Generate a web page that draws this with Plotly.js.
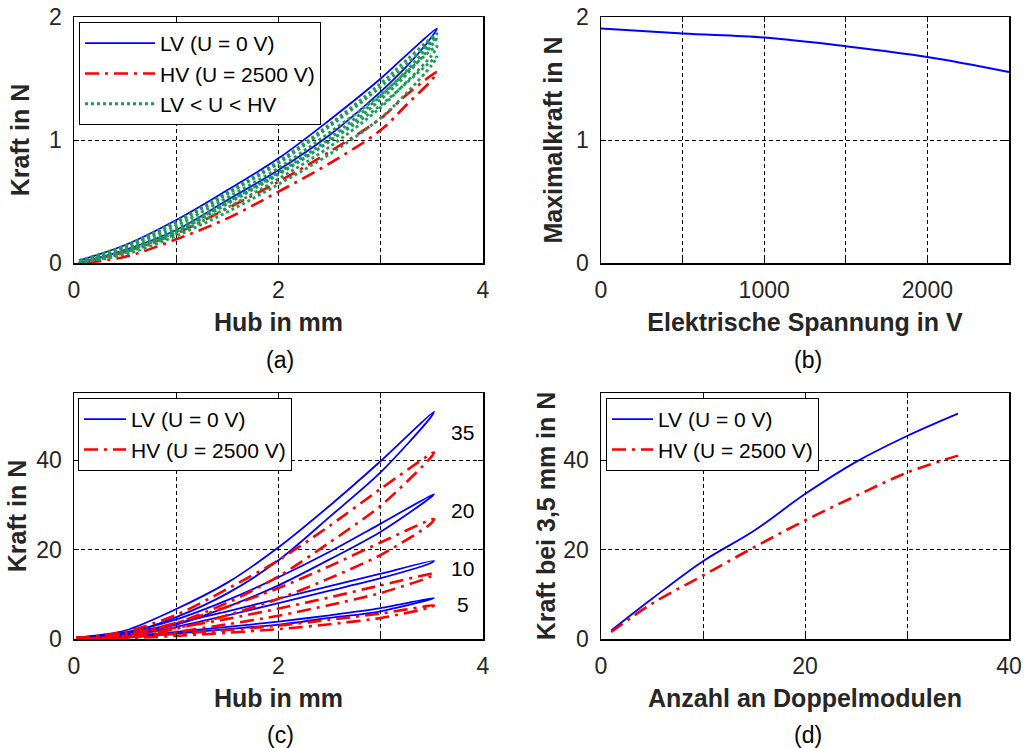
<!DOCTYPE html>
<html>
<head>
<meta charset="utf-8">
<script src="https://cdn.plot.ly/plotly-3.0.1.min.js"></script>
<style>html,body{margin:0;padding:0;background:#fff;}#chart{width:1025px;height:748px;}</style>
</head>
<body>
<div id="chart"></div>
<script>
// ---------- (a) Kraft-Hub loops, single double module ----------
const hubUpA   = [0.05, 0.5, 1, 1.5, 2, 2.5, 3, 3.25, 3.55];
const hubDownA = [3.5, 3.25, 3, 2.5, 2, 1.5, 1, 0.5, 0.05];
const lvUpA    = [0.02, 0.146, 0.35, 0.593, 0.851, 1.163, 1.50, 1.69, 1.906];
const lvDownA  = [1.84, 1.596, 1.393, 1.04, 0.756, 0.512, 0.268, 0.106, 0.0];
const hvUpA    = [0.0, 0.092, 0.241, 0.444, 0.661, 0.905, 1.176, 1.366, 1.553];
const hvDownA  = [1.49, 1.285, 1.081, 0.81, 0.58, 0.363, 0.193, 0.051, 0.0];
const midUpA = [
  [0.02, 0.14, 0.338, 0.574, 0.826, 1.127, 1.461, 1.649, 1.865],
  [0.02, 0.137, 0.328, 0.56, 0.81, 1.11, 1.432, 1.617, 1.833],
  [0.01, 0.127, 0.305, 0.532, 0.773, 1.061, 1.367, 1.552, 1.762],
  [0.01, 0.11, 0.28, 0.497, 0.727, 0.99, 1.283, 1.463, 1.675]
];
const midDownA = [
  [1.80, 1.56, 1.358, 1.012, 0.735, 0.494, 0.258, 0.1, 0.0],
  [1.77, 1.53, 1.33, 0.99, 0.72, 0.481, 0.253, 0.095, 0.0],
  [1.69, 1.47, 1.265, 0.945, 0.684, 0.45, 0.237, 0.084, 0.0],
  [1.61, 1.38, 1.18, 0.885, 0.64, 0.415, 0.22, 0.07, 0.0]
];

// ---------- (b) Maximalkraft vs voltage ----------
const voltage  = [0, 500, 1000, 1500, 2000, 2500];
const maxForce = [1.906, 1.865, 1.833, 1.762, 1.675, 1.553];

// ---------- (c) loops for 35, 20, 10, 5 double modules ----------
const moduleLabels = ['35', '20', '10', '5'];
const hubUpC   = [0.02, 0.5, 1, 1.5, 2, 2.5, 3, 3.52];
const hubDownC = [3.49, 3, 2.5, 2, 1.5, 1, 0.5, 0.02];
const lvUpC = [
  [0.3, 1.9, 6.7, 12.6, 20.5, 29.8, 39.8, 50.8],
  [0.3, 1.5, 4.4, 8.7, 13.8, 19.5, 25.8, 32.4],
  [0.3, 1.2, 3.5, 6.2, 9.0, 11.8, 14.6, 17.5],
  [0.3, 0.6, 1.6, 2.7, 3.9, 5.3, 6.9, 9.2]
];
const lvDownC = [
  [49.6, 37.3, 27.3, 17.6, 10.2, 4.9, 1.2, 0.0],
  [31.7, 24.0, 17.8, 12.0, 7.2, 3.2, 0.8, 0.0],
  [17.0, 13.6, 10.8, 8.0, 5.3, 2.7, 0.6, 0.0],
  [8.9, 6.2, 4.7, 3.2, 2.2, 1.2, 0.3, 0.0]
];
const hvUpC = [
  [0.2, 1.6, 5.4, 11.2, 17.6, 25.3, 33.6, 41.7],
  [0.2, 1.1, 3.6, 7.2, 11.4, 16.3, 21.6, 26.8],
  [0.2, 0.8, 2.5, 4.5, 6.8, 9.3, 12.0, 14.6],
  [0.2, 0.4, 1.15, 2.0, 3.0, 4.3, 5.7, 7.5]
];
const hvDownC = [
  [40.6, 29.8, 21.6, 14.0, 8.1, 3.6, 0.8, 0.0],
  [25.8, 18.8, 13.6, 9.0, 5.3, 2.3, 0.5, 0.0],
  [14.0, 10.3, 7.6, 5.2, 3.3, 1.6, 0.4, 0.0],
  [7.1, 4.7, 3.3, 2.2, 1.4, 0.7, 0.15, 0.0]
];
const labelForceC = [46.1, 28.7, 15.8, 7.7];

// ---------- (d) force at 3.5 mm vs number of double modules ----------
const modules = [1, 5, 10, 15, 20, 25, 30, 35];
const lvForceD = [1.9, 9.0, 17.4, 24.2, 32.4, 39.6, 45.4, 50.4];
const hvForceD = [1.55, 7.9, 14.2, 20.5, 26.5, 32.0, 37.2, 41.0];

// ---------- tick labels ----------
const hubTicks = [0, 1, 2, 3, 4];
const hubTickText = ['0', '', '2', '', '4'];
const forceTicksA = [0, 1, 2];
const forceTickTextA = ['0', '1', '2'];
const voltTicks = [0, 500, 1000, 1500, 2000, 2500];
const voltTickText = ['0', '', '1000', '', '2000', ''];
const forceTicksC = [0, 20, 40];
const forceTickTextC = ['0', '20', '40'];
const modTicks = [0, 10, 20, 30, 40];
const modTickText = ['0', '', '20', '', '40'];

// ---------- styles ----------
const FONT = 'Liberation Sans, Arial, sans-serif';
const TXT = '#262626';
const BLUE = '#0000ff', RED = '#ff0000', GREEN = '#1e9a5a';
const RED_DASH = '14px,6px,3px,6px';

function loop(xu, yu, xd, yd) {
  return { x: xu.concat(xd), y: yu.concat(yd) };
}

const traces = [];
// (a)
const lvA = loop(hubUpA, lvUpA, hubDownA, lvDownA);
traces.push({x: lvA.x, y: lvA.y, xaxis: 'x', yaxis: 'y', mode: 'lines', name: 'LV (U = 0 V)',
  line: {color: BLUE, width: 1.8, shape: 'spline'}, legend: 'legend'});
const hvA = loop(hubUpA, hvUpA, hubDownA, hvDownA);
traces.push({x: hvA.x, y: hvA.y, xaxis: 'x', yaxis: 'y', mode: 'lines', name: 'HV (U = 2500 V)',
  line: {color: RED, width: 2.6, dash: RED_DASH, shape: 'spline'}, legend: 'legend'});
for (let i = 0; i < midUpA.length; i++) {
  const m = loop(hubUpA, midUpA[i], hubDownA, midDownA[i]);
  traces.push({x: m.x, y: m.y, xaxis: 'x', yaxis: 'y', mode: 'lines', name: 'LV < U < HV',
    showlegend: i === 0, legendgroup: 'mid', legend: 'legend',
    line: {color: GREEN, width: 2.8, dash: 'dot', shape: 'spline'}});
}
// (b)
traces.push({x: voltage, y: maxForce, xaxis: 'x2', yaxis: 'y2', mode: 'lines', showlegend: false,
  line: {color: BLUE, width: 2, shape: 'spline'}});
// (c)
for (let i = 0; i < lvUpC.length; i++) {
  const m = loop(hubUpC, lvUpC[i], hubDownC, lvDownC[i]);
  traces.push({x: m.x, y: m.y, xaxis: 'x3', yaxis: 'y3', mode: 'lines', name: 'LV (U = 0 V)',
    showlegend: i === 0, legendgroup: 'lvC', legend: 'legend2',
    line: {color: BLUE, width: 1.8, shape: 'spline', smoothing: 0.8}});
}
for (let i = 0; i < hvUpC.length; i++) {
  const m = loop(hubUpC, hvUpC[i], hubDownC, hvDownC[i]);
  traces.push({x: m.x, y: m.y, xaxis: 'x3', yaxis: 'y3', mode: 'lines', name: 'HV (U = 2500 V)',
    showlegend: i === 0, legendgroup: 'hvC', legend: 'legend2',
    line: {color: RED, width: 2.6, dash: RED_DASH, shape: 'spline', smoothing: 0.8}});
}
// (d)
traces.push({x: modules, y: lvForceD, xaxis: 'x4', yaxis: 'y4', mode: 'lines', name: 'LV (U = 0 V)',
  legend: 'legend3', line: {color: BLUE, width: 1.8, shape: 'spline'}});
traces.push({x: modules, y: hvForceD, xaxis: 'x4', yaxis: 'y4', mode: 'lines', name: 'HV (U = 2500 V)',
  legend: 'legend3', line: {color: RED, width: 2.6, dash: RED_DASH, shape: 'spline'}});

function axis(extra) {
  return Object.assign({
    showline: true, linecolor: '#000', linewidth: 1.5, mirror: 'ticks',
    ticks: 'inside', ticklen: 5, tickcolor: '#000', tickwidth: 1,
    showgrid: true, gridcolor: '#000', gridwidth: 1, griddash: '4px,3px',
    zeroline: false, automargin: false, tickmode: 'array',
    tickfont: {family: FONT, size: 23, color: TXT}
  }, extra);
}
function ttl(text, standoff) {
  return {text: text, standoff: standoff, font: {family: FONT, size: 25, color: TXT, weight: 'bold'}};
}

const XL = [74/1025, 483/1025], XR = [601/1025, 1009/1025];
const YT = [1 - 263/748, 1 - 17/748], YB = [1 - 639/748, 1 - 393/748];

function legendCfg(x, y, iw) {
  return {x: x, y: y, xanchor: 'left', yanchor: 'top', xref: 'paper', yref: 'paper',
    bgcolor: '#fff', bordercolor: '#000', borderwidth: 1,
    font: {family: FONT, size: 21, color: '#000'}, itemwidth: iw, tracegroupgap: 0};
}

const annotations = [];
const subLabels = ['(a)', '(b)', '(c)', '(d)'];
const subPos = [[280/1025, 1 - 360/748], [808/1025, 1 - 360/748], [280/1025, 1 - 735/748], [808/1025, 1 - 735/748]];
subLabels.forEach((t, i) => annotations.push({text: t, x: subPos[i][0], y: subPos[i][1], xref: 'paper', yref: 'paper',
  showarrow: false, xanchor: 'center', yanchor: 'middle', font: {family: FONT, size: 23, color: '#000'}}));
moduleLabels.forEach((t, i) => annotations.push({text: t, x: 3.8, y: labelForceC[i], xref: 'x3', yref: 'y3',
  showarrow: false, xanchor: 'center', yanchor: 'middle', font: {family: FONT, size: 21, color: '#000'}}));

const layout = {
  width: 1025, height: 748,
  margin: {l: 0, r: 0, t: 0, b: 0},
  paper_bgcolor: '#fff', plot_bgcolor: '#fff',
  font: {family: FONT, color: TXT},
  xaxis:  axis({domain: XL, anchor: 'y',  range: [0, 4], tickvals: hubTicks, ticktext: hubTickText, title: ttl('Hub in mm', 11), ticklabelstandoff: 6}),
  yaxis:  axis({domain: YT, anchor: 'x',  range: [0, 2], tickvals: forceTicksA, ticktext: forceTickTextA, title: ttl('Kraft in N', 12), ticklabelstandoff: 6}),
  xaxis2: axis({domain: XR, anchor: 'y2', range: [0, 2500], tickvals: voltTicks, ticktext: voltTickText, title: ttl('Elektrische Spannung in V', 11), ticklabelstandoff: 6}),
  yaxis2: axis({domain: YT, anchor: 'x2', range: [0, 2], tickvals: forceTicksA, ticktext: forceTickTextA, title: ttl('Maximalkraft in N', 6), ticklabelstandoff: 6}),
  xaxis3: axis({domain: XL, anchor: 'y3', range: [0, 4], tickvals: hubTicks, ticktext: hubTickText, title: ttl('Hub in mm', 11), ticklabelstandoff: 6}),
  yaxis3: axis({domain: YB, anchor: 'x3', range: [0, 55], tickvals: forceTicksC, ticktext: forceTickTextC, title: ttl('Kraft in N', 2), ticklabelstandoff: 6}),
  xaxis4: axis({domain: XR, anchor: 'y4', range: [0, 40], tickvals: modTicks, ticktext: modTickText, title: ttl('Anzahl an Doppelmodulen', 11), ticklabelstandoff: 6}),
  yaxis4: axis({domain: YB, anchor: 'x4', range: [0, 55], tickvals: forceTicksC, ticktext: forceTickTextC, title: ttl('Kraft bei 3,5 mm in N', 0), ticklabelstandoff: 6}),
  legend:  legendCfg(79/1025, 1 - 22/748, 70),
  legend2: legendCfg(78/1025, 1 - 398/748, 42),
  legend3: legendCfg(606/1025, 1 - 398/748, 41),
  annotations: annotations,
  showlegend: true
};

Plotly.newPlot('chart', traces, layout, {staticPlot: true, displayModeBar: false});
</script>
</body>
</html>
